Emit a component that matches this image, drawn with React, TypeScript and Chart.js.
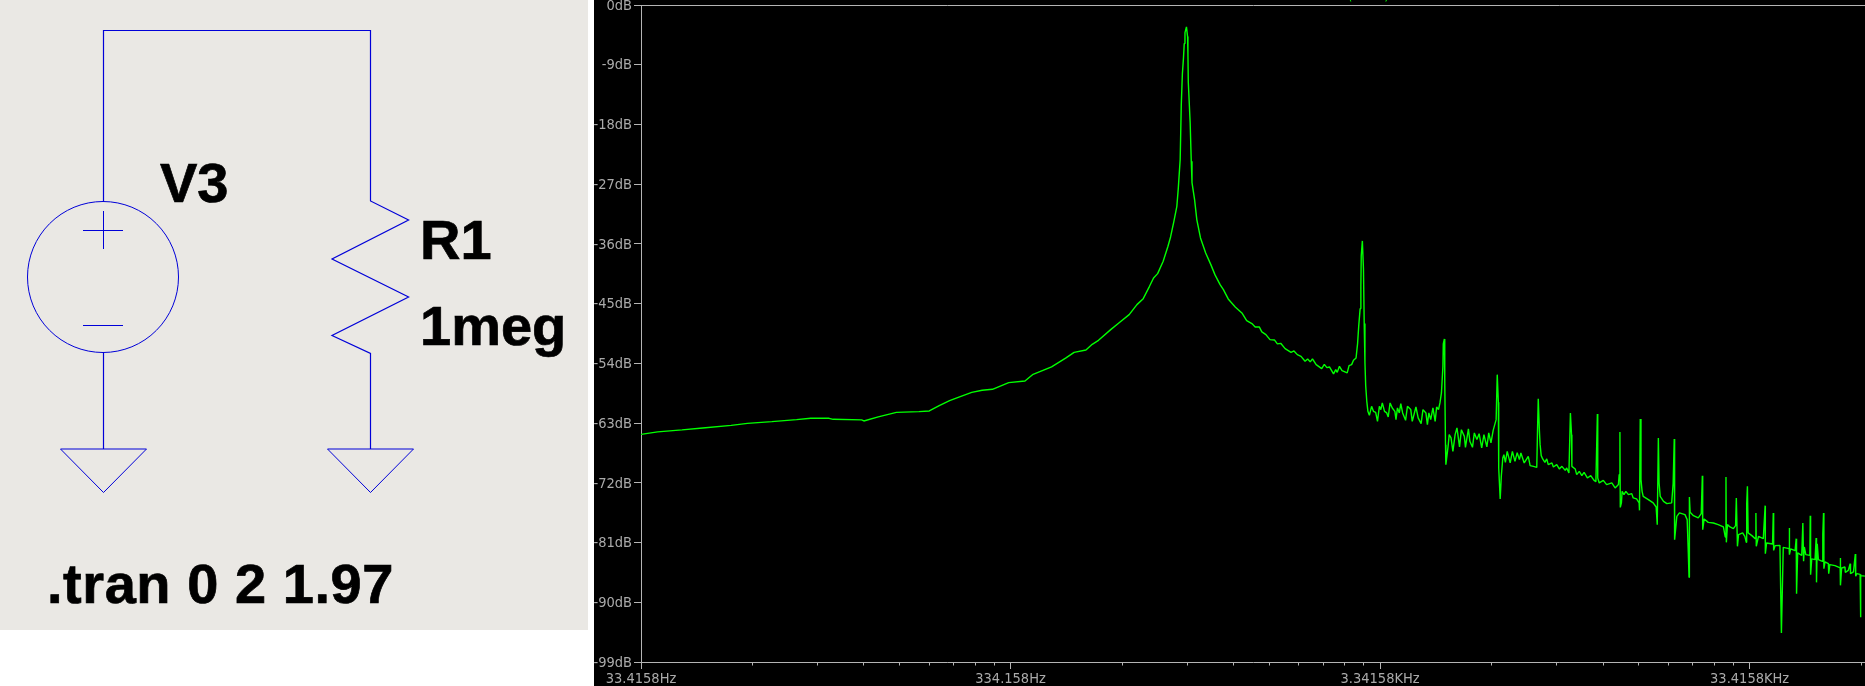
import React, { useEffect, useRef } from "react";
import { Chart, registerables } from "chart.js";

Chart.register(...registerables);

// V(n001) spectrum. Frequencies are in log10(Hz), magnitudes in dB.
const farSkirtLogHz = [1.524,1.569,1.635,1.691,1.768,1.812,1.878,1.945,1.983,2.033,2.044,2.121,2.127,2.166,2.215,2.276,2.304,2.331,2.359,2.386,2.419,2.447,2.475,2.519,2.563,2.585,2.635,2.674,2.696,2.728,2.745,2.762,2.795,2.817,2.845,2.866,2.883,2.900,2.911,2.922,2.937,2.950,2.957,2.966,2.974,2.978,2.983,2.986,2.989,2.992,2.994,2.996,3.000];
const farSkirtDb = [-64.70,-64.33,-64.03,-63.73,-63.34,-63.04,-62.78,-62.48,-62.28,-62.28,-62.43,-62.52,-62.68,-62.07,-61.38,-61.27,-61.17,-60.37,-59.62,-59.06,-58.37,-58.06,-57.91,-56.90,-56.65,-55.65,-54.54,-53.18,-52.34,-51.98,-51.13,-50.53,-48.92,-47.91,-46.66,-45.15,-44.25,-42.39,-41.13,-40.48,-38.62,-36.36,-34.95,-32.60,-30.34,-27.56,-23.30,-15.01,-10.34,-7.93,-5.82,-4.16,-3.30];

const upperSkirtLogHz = [3.003,3.004,3.005,3.010,3.013,3.015,3.022,3.028,3.038,3.052,3.066,3.077,3.091,3.100,3.113,3.132,3.150,3.163,3.177,3.186,3.197,3.204,3.215,3.226,3.238,3.246,3.255,3.267,3.283,3.291,3.300,3.310,3.321,3.328,3.335,3.341,3.351,3.366,3.373,3.380,3.387,3.398,3.404,3.408,3.414,3.421,3.435,3.440,3.447,3.452,3.459,3.463,3.466,3.470,3.472,3.473,3.476,3.479,3.481,3.483,3.485,3.488,3.491];
const upperSkirtDb = [-4.76,-7.47,-11.65,-17.72,-23.55,-26.76,-29.33,-32.34,-35.10,-37.36,-39.12,-40.63,-42.14,-42.89,-44.29,-45.50,-46.40,-47.56,-48.01,-48.51,-48.51,-49.26,-49.67,-50.42,-50.47,-51.07,-50.98,-51.78,-52.34,-52.13,-52.68,-52.94,-53.69,-53.33,-53.78,-53.33,-54.19,-54.79,-54.15,-54.64,-54.54,-55.59,-54.95,-55.35,-54.45,-55.10,-55.44,-54.34,-54.19,-53.54,-53.18,-51.07,-48.51,-45.75,-42.29,-37.77,-35.55,-39.77,-48.01,-53.85,-57.31,-59.72,-61.23];

const noiseFloorLogHz = [3.495,3.501,3.506,3.512,3.517,3.522,3.526,3.530,3.536,3.542,3.546,3.551,3.557,3.564,3.567,3.571,3.576,3.580,3.585,3.593,3.598,3.607,3.611,3.621,3.627,3.635,3.640,3.648,3.652,3.656,3.661,3.667,3.673,3.677,3.682,3.686,3.690,3.694,3.695,3.698,3.699,3.701,3.702,3.708,3.711,3.716,3.721,3.727,3.732,3.739,3.744,3.752,3.755,3.763,3.767,3.774,3.779,3.786,3.792,3.799,3.805,3.813,3.818,3.824,3.830,3.838,3.841,3.844,3.845,3.849,3.852,3.856,3.859,3.863,3.868,3.876,3.882,3.889,3.895,3.901,3.905,3.914,3.925,3.930,3.939,3.948,3.950,3.952,3.955,3.957];
const noiseFloorDb = [-61.83,-60.48,-61.23,-61.38,-62.74,-60.48,-60.97,-59.96,-61.23,-61.47,-62.07,-59.96,-60.72,-61.23,-62.48,-60.72,-61.47,-60.07,-61.47,-62.58,-60.48,-60.97,-62.74,-60.57,-62.22,-63.08,-60.97,-61.47,-63.23,-61.47,-62.48,-60.72,-62.74,-60.57,-60.97,-59.96,-58.46,-54.45,-51.07,-50.32,-56.90,-66.25,-69.26,-66.50,-64.74,-65.24,-67.26,-64.74,-63.73,-66.59,-63.99,-65.00,-66.65,-63.88,-65.75,-66.65,-64.48,-65.49,-64.59,-66.74,-64.74,-66.59,-64.48,-65.99,-64.09,-62.48,-55.70,-59.87,-69.76,-74.43,-71.02,-68.25,-67.75,-68.91,-67.26,-69.00,-67.26,-68.76,-67.45,-68.51,-67.50,-69.00,-68.01,-69.41,-69.52,-69.68,-64.14,-59.32,-63.99,-66.25];

const harmonicsLowLogHz = [3.960,3.964,3.970,3.975,3.979,3.989,3.993,4.002,4.009,4.016,4.025,4.029,4.035,4.039,4.042,4.043,4.052,4.056,4.063,4.070,4.076,4.085,4.094,4.103,4.108,4.112,4.113,4.117,4.128,4.137,4.151,4.160,4.169,4.171,4.173,4.174,4.177,4.179,4.184,4.189,4.196,4.205,4.209,4.218,4.225,4.226,4.228,4.230,4.233,4.236,4.250,4.263,4.271,4.274,4.277,4.279,4.282,4.291,4.300,4.313,4.317,4.320,4.321,4.327,4.334];
const harmonicsLowDb = [-67.90,-68.40,-68.91,-68.40,-69.26,-69.00,-69.61,-69.26,-69.91,-69.52,-70.12,-69.76,-70.51,-61.47,-64.74,-69.52,-69.91,-70.77,-70.27,-70.92,-70.42,-71.27,-70.92,-71.63,-71.82,-61.62,-71.27,-72.02,-71.63,-72.27,-72.02,-72.77,-72.27,-70.77,-64.33,-75.70,-75.03,-73.28,-73.78,-73.28,-73.78,-73.63,-74.28,-74.43,-75.03,-76.15,-62.37,-71.52,-73.28,-74.04,-74.53,-75.03,-75.64,-78.30,-65.24,-72.02,-74.04,-74.79,-75.14,-75.03,-72.12,-65.39,-80.56,-77.05,-76.54];

const harmonicsHighLogHz = [4.349,4.355,4.358,4.360,4.361,4.363,4.372,4.385,4.393,4.396,4.397,4.401,4.412,4.426,4.439,4.453,4.458,4.460,4.461,4.464,4.471,4.480,4.486,4.488,4.491,4.494,4.505,4.511,4.515,4.516,4.518,4.520,4.530,4.539,4.541,4.542,4.548,4.561,4.566,4.5665,4.570,4.586,4.588,4.589,4.593,4.606,4.610,4.615,4.631,4.6315,4.632,4.635,4.647,4.650,4.651,4.654,4.665,4.668,4.670,4.672,4.676,4.687,4.688,4.689,4.692,4.701,4.704,4.705,4.707,4.710,4.721,4.722,4.724,4.725,4.728,4.737,4.738,4.741,4.755,4.769,4.7695,4.770,4.773,4.782,4.783,4.791,4.796,4.797,4.805,4.810,4.811,4.814,4.823,4.824,4.825,4.836];
const harmonicsHighDb = [-76.79,-77.55,-82.48,-86.24,-74.13,-76.45,-76.95,-77.29,-76.65,-70.92,-79.06,-77.44,-77.96,-78.05,-78.30,-78.65,-80.16,-71.12,-80.97,-78.30,-78.65,-78.91,-78.45,-74.28,-81.57,-79.81,-79.55,-80.07,-80.97,-75.29,-72.53,-79.55,-79.96,-80.41,-76.54,-81.57,-80.07,-80.41,-75.44,-82.67,-81.06,-81.21,-76.54,-82.18,-81.47,-81.42,-94.62,-81.72,-81.92,-78.80,-82.82,-81.96,-82.22,-80.41,-88.70,-82.57,-82.93,-78.05,-83.83,-81.66,-82.82,-82.93,-76.95,-85.84,-83.47,-83.57,-80.31,-87.00,-81.17,-83.57,-83.83,-79.81,-76.54,-84.93,-83.92,-84.18,-85.69,-84.33,-84.48,-84.83,-83.32,-87.45,-84.83,-84.68,-85.49,-85.19,-84.18,-85.69,-85.43,-82.72,-86.09,-85.69,-85.79,-92.27,-85.99,-86.06];

const decadesHz = [33.4158, 334.158, 3341.58, 33415.8];
const decadeLabels = ["33.4158Hz", "334.158Hz", "3.34158KHz", "33.4158KHz"];
const minorMultipliers = [2, 3, 4, 5, 6, 7, 8, 9];
const axisEndLogHz = 4.8362;
const traceName = "V(n001)";

const AXIS_GREY = "#b4b4b4";
const TEXT_GREY = "#aaaaaa";
const LABEL_FONT = { family: "'DejaVu Sans Condensed', 'DejaVu Sans'", size: 14.5 };

const allLogHz = [...farSkirtLogHz, ...upperSkirtLogHz, ...noiseFloorLogHz, ...harmonicsLowLogHz, ...harmonicsHighLogHz];
const allDb = [...farSkirtDb, ...upperSkirtDb, ...noiseFloorDb, ...harmonicsLowDb, ...harmonicsHighDb];
const tracePoints = allLogHz.map((l, i) => ({ x: Math.pow(10, l), y: allDb[i] }));

const noAutoPadding = (s: any) => {
  s.paddingTop = 0;
  s.paddingBottom = 0;
  s.paddingLeft = 0;
  s.paddingRight = 0;
};

const spectrumDecor = {
  id: "spectrumDecor",
  afterDraw(chart: any) {
    const { ctx, scales, chartArea } = chart;
    ctx.save();
    ctx.strokeStyle = AXIS_GREY;
    ctx.lineWidth = 1;
    ctx.beginPath();
    for (const d of decadesHz) {
      for (const m of minorMultipliers) {
        const px = Math.round(scales.x.getPixelForValue(d * m)) + 0.5;
        if (px > chart.width) continue;
        ctx.moveTo(px, chartArea.bottom);
        ctx.lineTo(px, chartArea.bottom + 3.5);
      }
    }
    ctx.stroke();
    // Trace name sits at the very top, cut by the window edge as in the original.
    ctx.fillStyle = "#00ff00";
    ctx.font = "14px 'DejaVu Sans Condensed', 'DejaVu Sans'";
    ctx.textAlign = "center";
    ctx.textBaseline = "alphabetic";
    ctx.fillText(traceName, 770, 0);
    ctx.restore();
  },
};

function Schematic() {
  const wire = { stroke: "#0000d8", strokeWidth: 1.2, fill: "none" };
  const label = {
    fontFamily: "'Liberation Sans', Arial, sans-serif",
    fontWeight: 700,
    fontSize: 56,
    fill: "#000",
    stroke: "#000",
    strokeWidth: 0.7,
  };
  return (
    <svg width={588} height={630} style={{ position: "absolute", left: 0, top: 0, background: "#eae8e4" }}>
      <path d="M103.5 201V30.5H370.5V201L408.6 220L332 259L408.6 297L332 335.5L370.5 353.5V449" {...wire} />
      <path d="M103.5 352.5V449" {...wire} />
      <circle cx={103} cy={277} r={75.5} {...wire} strokeWidth={1} />
      <path d="M83 230.5H123M103.5 211V249M83 325.5H123" {...wire} strokeWidth={1} />
      <path d="M60.5 449H146.5L103.5 492.5Z" {...wire} strokeWidth={1} />
      <path d="M327.5 449H413.5L370.5 492.5Z" {...wire} strokeWidth={1} />
      <text x={160} y={202} {...label}>V3</text>
      <text x={420} y={259} {...label}>R1</text>
      <text x={420} y={345} {...label}>1meg</text>
      <text x={47} y={603} letterSpacing={0.55} {...label}>.tran 0 2 1.97</text>
    </svg>
  );
}

export default function App() {
  const ref = useRef<HTMLCanvasElement>(null);
  useEffect(() => {
    const chart = new Chart(ref.current as HTMLCanvasElement, {
      type: "line",
      data: {
        datasets: [
          {
            label: traceName,
            data: tracePoints,
            borderColor: "#00ff00",
            borderWidth: 1.4,
            borderJoinStyle: "bevel",
            pointRadius: 0,
            tension: 0,
            fill: false,
          },
        ],
      },
      options: {
        animation: false,
        responsive: false,
        devicePixelRatio: 1,
        layout: { autoPadding: false, padding: { top: 5, right: 0, bottom: 0, left: 0 } },
        plugins: { legend: { display: false }, title: { display: false }, tooltip: { enabled: false } },
        scales: {
          x: {
            type: "logarithmic",
            min: decadesHz[0],
            max: Math.pow(10, axisEndLogHz),
            afterBuildTicks: (s: any) => {
              s.ticks = decadesHz.map((value) => ({ value }));
            },
            afterFit: (s: any) => {
              s.height = 24;
              noAutoPadding(s);
            },
            grid: { drawOnChartArea: false, tickLength: 7, tickColor: AXIS_GREY, color: AXIS_GREY },
            border: { display: true, color: AXIS_GREY, width: 1 },
            ticks: {
              autoSkip: false,
              maxRotation: 0,
              padding: 2,
              color: TEXT_GREY,
              font: LABEL_FONT,
              callback: (_v: any, i: number) => decadeLabels[i],
            },
          },
          y: {
            type: "linear",
            min: -99,
            max: 0,
            afterFit: (s: any) => {
              s.width = 47;
              noAutoPadding(s);
            },
            grid: {
              tickLength: 7,
              tickColor: AXIS_GREY,
              color: (c: any) => (c.tick && c.tick.value === 0 ? AXIS_GREY : "transparent"),
            },
            border: { display: true, color: AXIS_GREY, width: 1 },
            ticks: {
              stepSize: 9,
              padding: 2,
              labelOffset: 1,
              color: TEXT_GREY,
              font: LABEL_FONT,
              callback: (v: any) => `${v}dB`,
            },
          },
        },
      },
      plugins: [spectrumDecor],
    } as any);
    return () => chart.destroy();
  }, []);

  return (
    <div style={{ position: "fixed", left: 0, top: 0, width: 1865, height: 686, background: "#fff", overflow: "hidden" }}>
      <Schematic />
      <canvas
        ref={ref}
        width={1271}
        height={686}
        style={{ position: "absolute", left: 594, top: 0, width: 1271, height: 686, background: "#000", display: "block" }}
      />
    </div>
  );
}
